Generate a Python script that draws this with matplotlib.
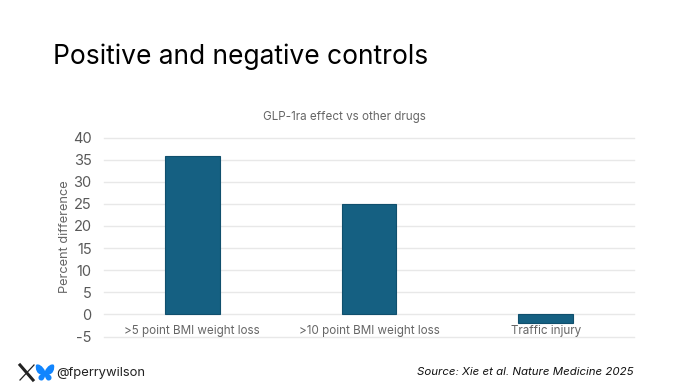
import numpy as np
import matplotlib
matplotlib.use("Agg")
import matplotlib.pyplot as plt
from matplotlib.patches import PathPatch
from matplotlib.path import Path
from matplotlib.lines import Line2D

plt.rcParams['font.family'] = ['Inter', 'DejaVu Sans']
plt.rcParams['axes.unicode_minus'] = False

W, H = 689, 388

categories = [">5 point BMI weight loss", ">10 point BMI weight loss", "Traffic injury"]
values = [35.8, 25, -2]
yticks = [-5, 0, 5, 10, 15, 20, 25, 30, 35, 40]

fig = plt.figure(figsize=(W / 100, H / 100), dpi=100, facecolor="white")
ax = fig.add_axes([104 / W, 1 - 336.5 / H, 530 / W, 199 / H])

x = np.arange(len(categories))
ax.bar(x, values, width=0.31, color="#156082", edgecolor="#104f6d", linewidth=0.8, zorder=3)

ax.set_xlim(-0.5, 2.5)
ax.set_ylim(-5, 40)
ax.set_yticks(yticks)
ax.set_xticks([])
ax.grid(axis="y", color="#e8e8e8", linewidth=1.0, zorder=0, clip_on=False)
for s in ax.spines.values():
    s.set_visible(False)
ax.tick_params(axis="y", length=0, labelsize=10.5, labelcolor="#595959", pad=9)
ax.set_axisbelow(True)

# category labels sit under the zero line, like the original chart
for i, c in enumerate(categories):
    ax.text(i, -3.85, c, ha="center", va="center", fontsize=8.4, color="#666666", zorder=4)

fig.text(65 / W, 1 - 237 / H, "Percent difference", rotation=90, ha="center", va="center",
         fontsize=9.2, color="#666666")

fig.text(53 / W, 1 - 57 / H, "Positive and negative controls", ha="left", va="center",
         fontsize=19, color="#000000")
fig.text(344.5 / W, 1 - 117 / H, "GLP-1ra effect vs other drugs", ha="center", va="center",
         fontsize=8.4, color="#666666")
fig.text(634 / W, 1 - 372 / H, "Source: Xie et al. Nature Medicine 2025", ha="right", va="center",
         fontsize=8.25, style="italic", color="#111111")
fig.text(56 / W, 1 - 373 / H, "@fperrywilson", ha="left", va="center", fontsize=9.4, color="#222222")

# X logo
fig.add_artist(Line2D([20 / W, 33 / W], [1 - 365 / H, 1 - 380 / H], color="#222222", lw=2.2))
fig.add_artist(Line2D([34 / W, 20 / W], [1 - 365 / H, 1 - 380 / H], color="#222222", lw=0.9))

# butterfly logo, pixel outline
def px(a, b):
    return (a / W, 1 - b / H)

verts = [px(45, 371),
         px(43, 366), px(38, 363), px(36, 365),
         px(35, 369), px(37, 374), px(41, 374.5),
         px(37, 376), px(38, 381), px(42, 380.5),
         px(44, 380), px(45, 377), px(45, 376),
         px(45, 377), px(46, 380), px(48, 380.5),
         px(52, 381), px(53, 376), px(49, 374.5),
         px(53, 374), px(55, 369), px(54, 365),
         px(52, 363), px(47, 366), px(45, 371),
         px(45, 371)]
codes = [Path.MOVETO] + [Path.CURVE4] * 24 + [Path.CLOSEPOLY]
fig.add_artist(PathPatch(Path(verts, codes), facecolor="#1185fe", edgecolor="none",
                         transform=fig.transFigure))

fig.savefig("out.png", dpi=100)
